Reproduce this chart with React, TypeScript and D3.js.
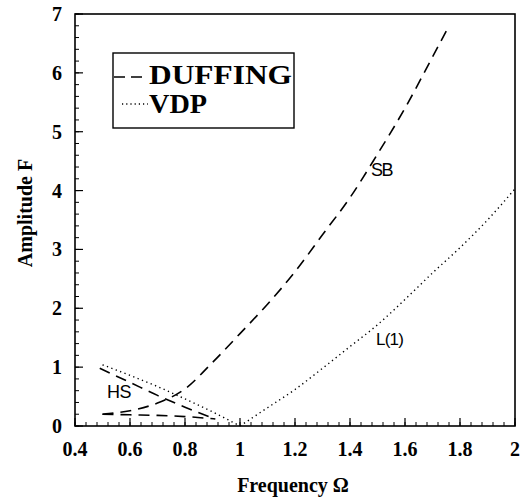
import React from "react";
import * as d3 from "d3";

const xTicks = [0.4, 0.6, 0.8, 1, 1.2, 1.4, 1.6, 1.8, 2];
const yTicks = [0, 1, 2, 3, 4, 5, 6, 7];

const sbOmega = [0.5, 0.6, 0.7, 0.8, 0.9, 1.0, 1.1, 1.2, 1.3, 1.4, 1.5, 1.6, 1.7, 1.76];
const sbF = [0.2, 0.26, 0.39, 0.63, 1.08, 1.57, 2.07, 2.62, 3.25, 3.88, 4.62, 5.4, 6.27, 6.8];

const hsUpperOmega = [0.49, 0.6, 0.7, 0.8, 0.91];
const hsUpperF = [0.98, 0.74, 0.52, 0.32, 0.12];
const hsLowerOmega = [0.5, 0.6, 0.7, 0.8, 0.91];
const hsLowerF = [0.2, 0.19, 0.18, 0.16, 0.12];

const vdpLeftOmega = [0.5, 0.6, 0.7, 0.8, 0.9, 1.0];
const vdpLeftF = [1.04, 0.86, 0.67, 0.46, 0.24, 0.0];
const l1Omega = [1.0, 1.1, 1.2, 1.3, 1.4, 1.5, 1.6, 1.7, 1.8, 1.9, 2.0];
const l1F = [0, 0.31, 0.62, 0.98, 1.35, 1.72, 2.15, 2.6, 3.03, 3.5, 4.03];

const W = 521, H = 499;
const M = { left: 75, right: 515, top: 14, bottom: 426 };

export default function App() {
  const x = d3.scaleLinear().domain([0.4, 2]).range([M.left, M.right]);
  const y = d3.scaleLinear().domain([0, 7]).range([M.bottom, M.top]);
  const line = d3.line<[number, number]>().x(d => x(d[0])).y(d => y(d[1])).curve(d3.curveMonotoneX);
  const zip = (a: number[], b: number[]) => a.map((v, i) => [v, b[i]] as [number, number]);

  const xMinor = d3.range(0.4, 2.0001, 0.04);
  const yMinor = d3.range(0, 7.0001, 0.2);

  const serif = "'Liberation Serif', 'Times New Roman', serif";
  const sans = "'Liberation Sans', Arial, sans-serif";
  const dash = "11,7";
  const dot = "1.3,3.4";

  return (
    <svg width={W} height={H} style={{ position: "absolute", left: 0, top: 0, background: "#fff" }}>
      <rect x={0} y={0} width={W} height={H} fill="#fff" />
      {xMinor.map((v, i) => (
        <line key={"xm" + i} x1={x(v)} x2={x(v)} y1={M.bottom} y2={M.bottom - 4} stroke="#000" strokeWidth={1} />
      ))}
      {yMinor.map((v, i) => (
        <line key={"ym" + i} x1={M.left} x2={M.left + 4} y1={y(v)} y2={y(v)} stroke="#000" strokeWidth={1} />
      ))}
      {xTicks.map((v, i) => (
        <g key={"xt" + i}>
          <line x1={x(v)} x2={x(v)} y1={M.bottom} y2={M.bottom - 8} stroke="#000" strokeWidth={1.2} />
          <text x={x(v)} y={456} textAnchor="middle" fontFamily={serif} fontWeight="bold" fontSize={20}>{String(v)}</text>
        </g>
      ))}
      {yTicks.map((v, i) => (
        <g key={"yt" + i}>
          <line x1={M.left} x2={M.left + 8} y1={y(v)} y2={y(v)} stroke="#000" strokeWidth={1.2} />
          <text x={62} y={y(v) + 7} textAnchor="end" fontFamily={serif} fontWeight="bold" fontSize={20}>{String(v)}</text>
        </g>
      ))}
      <rect x={M.left} y={M.top} width={M.right - M.left} height={M.bottom - M.top} fill="none" stroke="#000" strokeWidth={1.6} />

      <path d={line(zip(sbOmega, sbF)) || ""} fill="none" stroke="#000" strokeWidth={1.6} strokeDasharray={dash} />
      <path d={line(zip(hsUpperOmega, hsUpperF)) || ""} fill="none" stroke="#000" strokeWidth={1.6} strokeDasharray={dash} />
      <path d={line(zip(hsLowerOmega, hsLowerF)) || ""} fill="none" stroke="#000" strokeWidth={1.6} strokeDasharray={dash} />
      <path d={line(zip(vdpLeftOmega, vdpLeftF)) || ""} fill="none" stroke="#000" strokeWidth={1.4} strokeDasharray={dot} />
      <path d={line(zip(l1Omega, l1F)) || ""} fill="none" stroke="#000" strokeWidth={1.4} strokeDasharray={dot} />

      <text x={371} y={176} fontFamily={sans} fontSize={18} letterSpacing={-1.5}>SB</text>
      <text x={107} y={398} fontFamily={sans} fontSize={18} letterSpacing={-0.5}>HS</text>
      <text x={376} y={345} fontFamily={sans} fontSize={17} letterSpacing={-0.8}>L(1)</text>

      <rect x={113} y={53} width={181} height={75} fill="#fff" stroke="#000" strokeWidth={1.4} />
      <line x1={114} x2={144} y1={77} y2={77} stroke="#000" strokeWidth={1.6} strokeDasharray="11,6" />
      <text x={149} y={84} fontFamily={serif} fontWeight="bold" fontSize={28} textLength={143} lengthAdjust="spacingAndGlyphs">DUFFING</text>
      <line x1={122} x2={148} y1={104} y2={104} stroke="#000" strokeWidth={1.3} strokeDasharray="1.2,3" />
      <text x={149} y={113} fontFamily={serif} fontWeight="bold" fontSize={28} textLength={58} lengthAdjust="spacingAndGlyphs">VDP</text>

      <text x={293} y={492} textAnchor="middle" fontFamily={serif} fontWeight="bold" fontSize={20}>Frequency Ω</text>
      <text transform="translate(32,213) rotate(-90)" textAnchor="middle" fontFamily={serif} fontWeight="bold" fontSize={20}>Amplitude F</text>
    </svg>
  );
}
